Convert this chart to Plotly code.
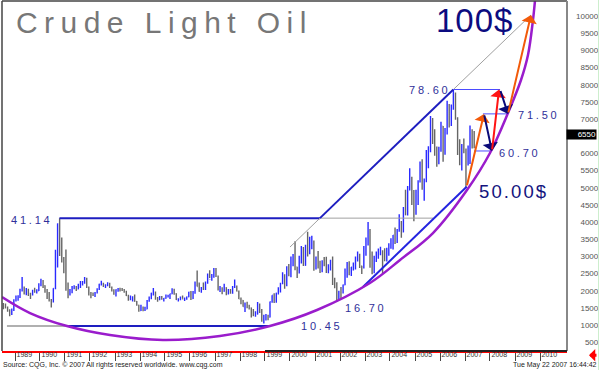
import pandas as pd
import plotly.graph_objects as go

# ---------------- data (monthly bars, price in $) ----------------
first_month = "1988-07-01"
last_month = "2007-05-01"

open_ = [
    15.80, 15.40, 15.20, 14.10, 13.60, 14.40,
    17.30, 17.90, 18.10, 20.40, 20.50, 19.60, 20.20, 18.80, 18.80, 20.10, 19.80, 20.00,
    21.80, 22.70, 21.50, 20.30, 18.40, 17.20, 17.10, 20.70, 27.30, 39.50, 35.20, 29.00,
    28.40, 21.50, 19.20, 19.60, 20.90, 21.20, 20.50, 21.60, 22.20, 22.30, 23.60, 21.00,
    19.10, 18.90, 18.80, 19.40, 20.40, 21.90, 21.90, 21.40, 21.60, 21.90, 21.00, 20.10,
    19.50, 20.30, 20.60, 20.40, 20.10, 19.80, 18.60, 17.80, 18.10, 18.20, 16.90, 15.80,
    14.20, 15.20, 14.40, 14.70, 17.10, 17.90, 19.30, 19.60, 17.90, 17.70, 17.90, 17.70,
    17.80, 18.40, 18.50, 19.10, 20.40, 19.10, 17.40, 17.60, 17.90, 17.50, 17.60, 18.20,
    19.55, 17.70, 19.50, 21.50, 21.20, 19.80, 20.90, 20.40, 22.40, 24.40, 23.30, 24.00,
    25.90, 24.20, 20.30, 20.80, 19.80, 20.90, 19.80, 20.10, 19.60, 21.20, 21.20, 19.90,
    17.60, 17.20, 15.40, 15.60, 15.30, 15.00, 14.20, 13.00, 13.20, 15.40, 14.40, 11.20,
    12.10, 12.80, 12.30, 16.80, 18.70, 16.80, 19.30, 20.50, 22.10, 24.50, 21.60, 26.30,
    25.60, 27.60, 30.40, 26.90, 25.70, 29.00, 32.50, 27.40, 33.10, 30.80, 32.70, 34.40,
    26.80, 28.70, 27.40, 26.30, 28.50, 28.40, 26.20, 26.40, 27.20, 23.40, 21.20, 19.40,
    19.80, 19.50, 21.70, 26.30, 27.30, 25.30, 26.90, 27.00, 28.90, 30.50, 27.20, 26.90,
    31.20, 33.50, 36.60, 31.00, 25.80, 29.60, 30.20, 30.50, 31.60, 29.20, 29.10, 30.40,
    32.50, 33.00, 36.20, 35.80, 37.40, 39.90, 37.10, 43.80, 42.10, 49.60, 51.80, 49.10,
    43.40, 48.20, 51.70, 55.40, 49.70, 51.97, 56.50, 60.57, 68.94, 66.24, 59.76, 57.32,
    61.04, 67.92, 61.41, 66.63, 71.88, 71.29, 73.93, 74.40, 70.26, 62.91, 58.73, 62.38,
    61.05, 58.14, 61.79, 65.87, 65.71,
]
high = [
    16.45, 16.30, 15.40, 14.60, 14.80, 17.50,
    18.60, 18.70, 20.60, 24.00, 21.20, 20.80, 20.60, 19.40, 20.30, 20.90, 20.40, 22.20,
    23.50, 23.10, 21.60, 20.50, 19.60, 17.60, 20.70, 31.90, 39.60, 41.14, 35.50, 29.80,
    32.00, 22.40, 20.50, 21.40, 21.60, 21.40, 22.00, 22.80, 22.80, 24.00, 23.80, 21.20,
    19.60, 19.50, 19.60, 20.70, 22.00, 22.90, 22.30, 21.90, 22.50, 22.30, 21.20, 20.40,
    20.40, 20.80, 20.90, 20.80, 20.50, 20.00, 18.80, 18.60, 18.40, 18.90, 17.00, 15.90,
    15.90, 15.40, 15.30, 17.30, 18.30, 19.40, 20.80, 19.80, 18.20, 18.50, 18.50, 17.90,
    18.90, 18.80, 19.10, 20.70, 20.60, 19.30, 17.80, 18.30, 18.60, 18.00, 18.30, 19.70,
    19.90, 19.90, 22.70, 25.90, 22.40, 21.10, 22.40, 22.70, 25.00, 26.00, 24.90, 26.60,
    26.60, 24.40, 21.40, 21.00, 22.00, 21.00, 20.50, 20.50, 21.40, 23.30, 21.50, 20.10,
    18.00, 17.30, 16.60, 16.80, 15.90, 15.10, 14.70, 14.00, 16.70, 16.30, 14.70, 13.00,
    13.20, 13.00, 16.90, 18.70, 19.30, 19.40, 21.00, 22.30, 25.40, 24.80, 27.10, 27.80,
    30.00, 30.70, 34.40, 27.00, 30.20, 33.00, 32.70, 33.40, 37.20, 35.70, 36.00, 34.60,
    30.00, 31.60, 28.70, 28.90, 29.80, 29.90, 27.70, 29.00, 30.00, 23.80, 22.50, 20.00,
    21.10, 21.80, 26.50, 28.40, 28.60, 26.90, 28.20, 30.00, 31.40, 30.80, 27.30, 33.00,
    35.50, 39.99, 38.00, 31.40, 30.20, 31.40, 32.30, 32.80, 31.80, 32.40, 32.50, 33.80,
    35.30, 36.20, 38.40, 38.00, 42.30, 40.30, 44.40, 49.40, 50.50, 55.67, 53.20, 49.30,
    49.40, 52.20, 57.60, 58.30, 52.70, 60.95, 62.10, 70.85, 70.30, 67.00, 62.00, 61.90,
    69.20, 68.00, 67.40, 75.35, 74.40, 74.20, 78.60, 77.70, 70.50, 64.10, 62.70, 64.30,
    61.40, 62.30, 68.10, 67.00, 66.50,
]
low = [
    14.60, 14.80, 13.90, 12.60, 12.90, 14.10,
    16.90, 17.10, 17.90, 19.80, 18.90, 18.70, 18.50, 17.60, 18.60, 19.40, 19.20, 19.90,
    21.30, 20.80, 19.40, 17.60, 16.90, 15.10, 16.60, 20.40, 26.80, 30.10, 28.20, 25.10,
    20.00, 17.80, 18.60, 19.30, 20.40, 19.90, 20.40, 20.80, 21.50, 22.00, 20.80, 18.60,
    17.80, 18.50, 18.20, 19.20, 20.20, 21.50, 21.10, 20.80, 21.30, 20.80, 19.80, 18.80,
    18.30, 19.70, 19.80, 19.90, 19.40, 18.50, 17.10, 17.20, 16.90, 16.80, 15.60, 13.90,
    14.10, 14.00, 14.10, 14.60, 16.80, 17.50, 18.60, 17.40, 16.80, 17.20, 17.40, 16.90,
    17.70, 18.00, 17.60, 19.00, 18.80, 17.30, 16.90, 17.20, 17.70, 17.00, 17.40, 18.10,
    17.30, 17.60, 19.10, 21.20, 19.70, 19.40, 20.20, 20.20, 22.00, 23.70, 22.90, 23.80,
    24.00, 20.10, 19.60, 19.00, 19.70, 18.70, 18.90, 19.10, 19.10, 20.80, 19.80, 17.60,
    16.10, 15.30, 13.80, 14.90, 14.50, 12.20, 12.60, 12.40, 13.10, 13.50, 11.00, 10.45,
    11.30, 11.40, 12.20, 16.50, 16.40, 16.50, 18.90, 19.50, 21.90, 20.60, 21.30, 24.20,
    23.90, 27.10, 26.00, 23.70, 25.00, 27.90, 27.20, 27.30, 30.00, 30.60, 32.10, 25.80,
    26.20, 26.50, 25.20, 25.40, 27.10, 25.20, 25.10, 25.90, 21.70, 20.70, 16.70, 17.50,
    17.90, 19.20, 21.60, 23.80, 24.50, 24.30, 25.90, 26.20, 28.50, 26.60, 24.90, 26.50,
    30.20, 33.20, 26.70, 24.80, 25.10, 28.40, 29.30, 30.30, 25.00, 28.60, 28.50, 30.20,
    32.20, 32.00, 33.60, 33.90, 37.20, 35.40, 37.00, 42.00, 41.90, 49.20, 45.00, 40.25,
    42.10, 45.00, 51.50, 49.40, 46.20, 51.60, 55.70, 60.30, 62.70, 59.30, 56.10, 56.80,
    60.50, 57.55, 59.60, 65.50, 67.50, 68.00, 72.70, 69.80, 59.50, 56.55, 55.00, 60.00,
    50.00, 56.50, 56.90, 61.40, 61.50,
]
close = [
    15.40, 15.20, 14.10, 13.60, 14.40, 17.30,
    17.90, 18.10, 20.40, 20.50, 19.60, 20.20, 18.80, 18.80, 20.10, 19.80, 20.00, 21.80,
    22.70, 21.50, 20.30, 18.40, 17.20, 17.10, 20.70, 27.30, 39.50, 35.20, 29.00, 28.40,
    21.50, 19.20, 19.60, 20.90, 21.20, 20.50, 21.60, 22.20, 22.30, 23.60, 21.00, 19.10,
    18.90, 18.80, 19.40, 20.40, 21.90, 21.90, 21.40, 21.60, 21.90, 21.00, 20.10, 19.50,
    20.30, 20.60, 20.40, 20.10, 19.80, 18.60, 17.80, 18.10, 18.20, 16.90, 15.80, 14.20,
    15.20, 14.40, 14.70, 17.10, 17.90, 19.30, 19.60, 17.90, 17.70, 17.90, 17.70, 17.80,
    18.40, 18.50, 19.10, 20.40, 19.10, 17.40, 17.60, 17.90, 17.50, 17.60, 18.20, 19.55,
    17.70, 19.50, 21.50, 21.20, 19.80, 20.90, 20.40, 22.40, 24.40, 23.30, 24.00, 25.90,
    24.20, 20.30, 20.80, 19.80, 20.90, 19.80, 20.10, 19.60, 21.20, 21.20, 19.90, 17.60,
    17.20, 15.40, 15.60, 15.30, 15.00, 14.20, 13.00, 13.20, 15.40, 14.40, 11.20, 12.10,
    12.80, 12.30, 16.80, 18.70, 16.80, 19.30, 20.50, 22.10, 24.50, 21.60, 26.30, 25.60,
    27.60, 30.40, 26.90, 25.70, 29.00, 32.50, 27.40, 33.10, 30.80, 32.70, 34.40, 26.80,
    28.70, 27.40, 26.30, 28.50, 28.40, 26.20, 26.40, 27.20, 23.40, 21.20, 19.40, 19.80,
    19.50, 21.70, 26.30, 27.30, 25.30, 26.90, 27.00, 28.90, 30.50, 27.20, 26.90, 31.20,
    33.50, 36.60, 31.00, 25.80, 29.60, 30.20, 30.50, 31.60, 29.20, 29.10, 30.40, 32.50,
    33.00, 36.20, 35.80, 37.40, 39.90, 37.10, 43.80, 42.10, 49.60, 51.80, 49.10, 43.40,
    48.20, 51.70, 55.40, 49.70, 51.97, 56.50, 60.57, 68.94, 66.24, 59.76, 57.32, 61.04,
    67.92, 61.41, 66.63, 71.88, 71.29, 73.93, 74.40, 70.26, 62.91, 58.73, 62.38, 61.05,
    58.14, 61.79, 65.87, 65.71, 65.50,
]
last_price = 65.50

# axis ticks (6500 is covered by the last-price box in the original)
year_ticks = [f"{y}-01-01" for y in range(1989, 2011)]
year_labels = [str(y) for y in range(1989, 2011)]
price_ticks = [5, 10, 15, 20, 25, 30, 35, 40, 45, 50, 55, 60, 70, 75, 80, 85, 90, 95, 100]
price_labels = ["500", "1000", "1500", "2000", "2500", "3000", "3500", "4000", "4500", "5000",
                "5500", "6000", "7000", "7500", "8000", "8500", "9000", "9500", "10000"]

# ---------------- drawn study lines ----------------
arc_dates = ["1988-06-25", "1989-08-08", "1991-01-30", "1992-10-19", "1994-12-02",
             "1997-03-14", "1999-03-14", "2001-01-30", "2003-03-14", "2004-05-27",
             "2005-09-20", "2007-01-30", "2008-01-01", "2008-09-20", "2009-03-29",
             "2009-07-09", "2009-09-20", "2009-10-19"]
arc_values = [18.17, 13.51, 9.73, 7.11, 5.65, 6.82, 9.73, 14.39, 22.25, 28.95,
              36.81, 49.33, 60.10, 71.75, 81.36, 88.64, 98.84, 104.4]

peak_1990_level = 41.14
floor_level = 9.75
floor_gray_dates = ["1988-09-05", "1991-01-30"]
floor_blue_dates = ["1991-01-30", "1999-03-14"]
level41_blue_dates = ["1990-10-12", "2001-03-14"]
level41_gray_dates = ["2001-03-14", "2005-09-20"]

upper_gray1_dates = ["2000-01-01", "2001-03-14"]
upper_gray1_values = [32.72, 41.14]
upper_blue_dates = ["2001-03-14", "2006-07-15"]
upper_blue_values = [41.14, 78.60]
upper_gray2_dates = ["2006-07-15", "2009-08-22"]
upper_gray2_values = [78.60, 100.3]

lower_blue_dates = ["2002-12-01", "2007-01-25"]
lower_blue_values = [21.08, 50.30]

target_lines = [  # (start, end, level)
    ("2006-07-15", "2008-05-27", 78.60),
    ("2007-09-20", "2008-09-20", 71.50),
    ("2007-05-12", "2008-01-30", 60.70),
]
arrows = [  # (tail date, tail value, head date, head value, color)
    ("2007-01-25", 50.30, "2007-10-05", 71.50, "#f25a0a"),
    ("2007-10-05", 71.50, "2008-01-30", 60.70, "#0a0a78"),
    ("2008-01-30", 60.70, "2008-05-12", 78.60, "#ff1414"),
    ("2008-05-27", 78.60, "2008-09-20", 71.50, "#0a0a78"),
    ("2008-09-20", 71.50, "2009-08-22", 100.30, "#f25a0a"),
]
level_labels = [  # (text, date, value, size, spacing, color)
    ("41.14", "1988-10-05", 40.6, 11, 2.8, "#30309a"),
    ("10.45", "2000-05-11", 9.8, 11, 2.8, "#30309a"),
    ("16.70", "2002-02-14", 15.1, 11, 2.8, "#30309a"),
    ("78.60", "2004-09-05", 78.45, 11, 2.8, "#30309a"),
    ("71.50", "2009-01-15", 71.2, 11, 2.8, "#30309a"),
    ("60.70", "2008-04-12", 60.25, 11, 2.8, "#30309a"),
    ("50.00$", "2007-06-24", 49.0, 18.5, 2.1, "#14147e"),
]

# ---------------- figure ----------------
months = pd.date_range(first_month, last_month, freq="MS") + pd.Timedelta(days=14)

fig = go.Figure()
fig.add_trace(go.Ohlc(
    x=months, open=open_, high=high, low=low, close=close,
    increasing=dict(line=dict(color="#2a2aff", width=1.4)),
    decreasing=dict(line=dict(color="#666666", width=1.4)),
    tickwidth=0.3, hoverinfo="skip",
))

BLUE = "#1e1ec0"
GRAY = "#a0a0a0"


def seg(xs, ys, color, width, shape="linear"):
    fig.add_trace(go.Scatter(x=xs, y=ys, mode="lines",
                             line=dict(color=color, width=width, shape=shape, smoothing=1.0),
                             hoverinfo="skip"))


seg(floor_gray_dates, [floor_level] * 2, "#b0b0b0", 2)
seg(floor_blue_dates, [floor_level] * 2, BLUE, 2)
seg(level41_blue_dates, [peak_1990_level] * 2, BLUE, 2)
seg(level41_gray_dates, [peak_1990_level] * 2, GRAY, 1)
seg(upper_gray1_dates, upper_gray1_values, GRAY, 1)
seg(upper_blue_dates, upper_blue_values, BLUE, 2)
seg(upper_gray2_dates, upper_gray2_values, GRAY, 1)
seg(lower_blue_dates, lower_blue_values, "#2424e0", 2)
for d0, d1, lv in target_lines:
    seg([d0, d1], [lv, lv], "#4b4bff", 1)
seg(arc_dates, arc_values, "#9a1ccc", 2.5, shape="spline")

FONT = "Liberation Sans, Arial, sans-serif"
FIG_SP = "\u2007"

annotations = []
for td, tv, hd, hv, col in arrows:
    annotations.append(dict(x=hd, y=hv, ax=td, ay=tv, xref="x", yref="y", axref="x", ayref="y",
                            text="", showarrow=True, arrowhead=1, arrowsize=1.3,
                            arrowwidth=2, arrowcolor=col, standoff=0, startstandoff=0))
for txt, d, v, size, sp, col in level_labels:
    annotations.append(dict(x=d, y=v, xref="x", yref="y", xanchor="left", yanchor="middle",
                            text=f'<span style="letter-spacing:{sp}px">{txt}</span>',
                            showarrow=False, font=dict(family=FONT, size=size, color=col)))

# title
annotations.append(dict(x=0.0212, y=0.94, xref="paper", yref="paper", xanchor="left", yanchor="middle",
                        text='<span style="letter-spacing:6.45px">Crude Light Oil</span>', showarrow=False,
                        font=dict(family=FONT, size=30, color="#777777")))
annotations.append(dict(x=0.7646, y=0.9457, xref="paper", yref="paper", xanchor="left", yanchor="middle",
                        text='<span style="letter-spacing:1px">100$</span>', showarrow=False,
                        font=dict(family=FONT, size=33, color="#0c0c80")))
# last price box
annotations.append(dict(x=1.0531, y=last_price, xref="paper", yref="y", xanchor="right", yanchor="middle",
                        text=f"{int(round(last_price * 100))}", showarrow=False, bgcolor="#000000",
                        width=29, height=9, align="right", borderpad=0,
                        font=dict(family=FONT, size=8, color="#ffffff")))
# footer
annotations.append(dict(x=-0.0018, y=-0.04, xref="paper", yref="paper", xanchor="left", yanchor="middle",
                        text="Source: CQG, Inc. © 2007 All rights reserved worldwide. www.cqg.com",
                        showarrow=False, font=dict(family=FONT, size=7, color="#222222")))
annotations.append(dict(x=1.0566, y=-0.04, xref="paper", yref="paper", xanchor="right", yanchor="middle",
                        text="Tue May 22 2007 16:44:42",
                        showarrow=False, font=dict(family=FONT, size=7, color="#222222")))
# red pointer arrow bottom-right
annotations.append(dict(x=1.0389, y=-0.012, xref="paper", yref="paper", ax=9, ay=0, text="",
                        showarrow=True, arrowhead=1, arrowsize=0.7, arrowwidth=3, arrowcolor="#ff0000",
                        standoff=0))

shapes = [
    dict(type="line", xref="paper", yref="paper", x0=0, x1=1, y0=1, y1=1,
         line=dict(color="#444444", width=1.5)),
    dict(type="line", xref="paper", yref="paper", x0=0, x1=0, y0=0, y1=1,
         line=dict(color="#444444", width=1.5)),
    dict(type="line", xref="paper", yref="paper", x0=1, x1=1, y0=0, y1=1,
         line=dict(color="#888888", width=2)),
    dict(type="line", xref="x", yref="paper", x0="1999-01-01", x1="2011-01-30", y0=0, y1=0,
         line=dict(color="#222222", width=2)),
    dict(type="line", xref="paper", yref="paper", x0=1.0558, x1=1.0558, y0=-0.06, y1=1.01,
         line=dict(color="#cdeecd", width=1)),
]

fig.update_layout(
    template="none",
    width=600, height=370,
    margin=dict(l=2, r=33, t=1, b=19, pad=0, autoexpand=False),
    paper_bgcolor="white", plot_bgcolor="white",
    showlegend=False,
    hovermode=False,
    annotations=annotations,
    shapes=shapes,
    xaxis=dict(
        type="date", range=["1988-06-25", "2011-01-30"], automargin=False,
        tickmode="array", tickvals=year_ticks, ticktext=year_labels,
        ticks="outside", ticklen=8, tickwidth=1, tickcolor="#444444",
        ticklabelposition="outside right", ticklabelstandoff=-4,
        tickfont=dict(family=FONT, size=7, color="#333333"),
        showgrid=False, zeroline=False, showline=True, linecolor="#ff0000", linewidth=2,
        rangeslider=dict(visible=False),
    ),
    yaxis=dict(
        range=[2.45, 104.37], side="right", automargin=False,
        tickmode="array", tickvals=price_ticks,
        ticktext=[FIG_SP * (5 - len(t)) + t for t in price_labels],
        ticks="", ticklabelstandoff=8,
        tickfont=dict(family=FONT, size=8, color="#555555"),
        showgrid=False, zeroline=False, showline=False,
    ),
)

fig.write_html("out.html", config={"displayModeBar": False},
               post_script="document.body.style.margin='0px';")
